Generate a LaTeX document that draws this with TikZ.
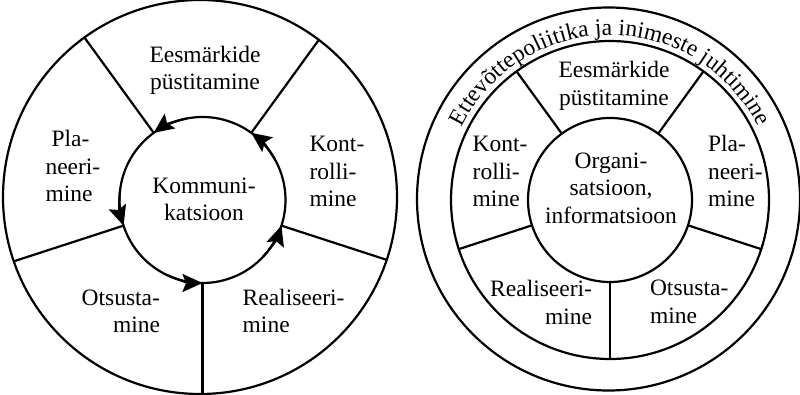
\documentclass[tikz,border=0pt]{standalone}
\usepackage{fontspec}
\setmainfont{Liberation Serif}
\usetikzlibrary{arrows.meta,calc,decorations.text}
\begin{document}
\begin{tikzpicture}[x=1pt,y=1pt,
  ln/.style={line width=2.2pt},
  ring/.style={circle, draw, line width=2.2pt, inner sep=0pt, outer sep=0pt},
  lbl/.style={inner sep=0pt, outer sep=0pt, font=\fontsize{23.5}{27.5}\selectfont},
  flow/.style={line width=2.2pt, -{Stealth[length=20pt,width=18pt,inset=3.5pt]}}
]
\useasboundingbox (0,0) rectangle (800,394);
% ---------- left diagram ----------
\coordinate (cL) at (202.5,194);
\coordinate (cLo) at (200,197);
\node[ring, minimum size=394pt] (outerL) at (cLo) {};
\node[ring, minimum size=166pt] (innerL) at (cL) {};
\foreach \a/\t in {54/197.9,126/200.9,198/198.4,270/194,342/193.7}
  \draw[ln] (innerL.\a) -- ($(cL)+(\a:\t)$);
\foreach \a in {54,126,198,270,342}
  \draw[flow] ($(cL)+({\a-25}:83)$) arc[start angle={\a-25}, end angle=\a, radius=83];
\node[lbl, anchor=base] (eesL) at (205,331.5)
  {\begin{tabular}[t]{@{}c@{}}Eesmärkide\\püstitamine\end{tabular}};
\node[lbl, anchor=base west] (plaL) at (45.5,247.3)
  {\begin{tabular}[t]{@{}l@{}}\hspace*{6pt}Pla-\\neeri-\\mine\end{tabular}};
\node[lbl, anchor=base west] (konL) at (309.5,242.3)
  {\begin{tabular}[t]{@{}l@{}}Kont-\\rolli-\\mine\end{tabular}};
\node[lbl, anchor=base] (komL) at (204,200.7)
  {\begin{tabular}[t]{@{}c@{}}Kommuni-\\katsioon\end{tabular}};
\node[lbl, anchor=base east] (otsL) at (160,89)
  {\begin{tabular}[t]{@{}r@{}}Otsusta-\\mine\end{tabular}};
\node[lbl, anchor=base west] (reaL) at (242.7,89)
  {\begin{tabular}[t]{@{}l@{}}Realiseeri-\\mine\end{tabular}};
% ---------- right diagram ----------
\coordinate (cR) at (610,194);
\coordinate (cRo) at (608.5,195);
\node[ring, minimum size=383pt] (outerR) at (cRo) {};
\node[ring, minimum size=318pt] (midR) at (cR) {};
\node[ring, minimum size=164pt] (innerR) at (cR) {};
\foreach \a in {54,126,198,270,342}
  \draw[ln] (innerR.\a) -- (midR.\a);
\path[decorate, decoration={text along path, text align=center,
  text={|\fontsize{23.5}{27.5}\selectfont|Ettevõttepoliitika ja inimeste juhtimine}}]
  ($(cR)+(170:165)$) arc[start angle=170, end angle=10, radius=165];
\node[lbl, anchor=base] (eesR) at (614,316.3)
  {\begin{tabular}[t]{@{}c@{}}Eesmärkide\\püstitamine\end{tabular}};
\node[lbl, anchor=base west] (konR) at (472.7,242.3)
  {\begin{tabular}[t]{@{}l@{}}Kont-\\rolli-\\mine\end{tabular}};
\node[lbl, anchor=base west] (plaR) at (708,242.3)
  {\begin{tabular}[t]{@{}l@{}}Pla-\\neeri-\\mine\end{tabular}};
\node[lbl, anchor=base] (orgR) at (611,225.7)
  {\begin{tabular}[t]{@{}c@{}}Organi-\\satsioon,\\informatsioon\end{tabular}};
\node[lbl, anchor=base east] (reaR) at (592,97.5)
  {\begin{tabular}[t]{@{}r@{}}Realiseeri-\\mine\end{tabular}};
\node[lbl, anchor=base west] (otsR) at (650,98.5)
  {\begin{tabular}[t]{@{}l@{}}Otsusta-\\mine\end{tabular}};
\end{tikzpicture}
\end{document}
